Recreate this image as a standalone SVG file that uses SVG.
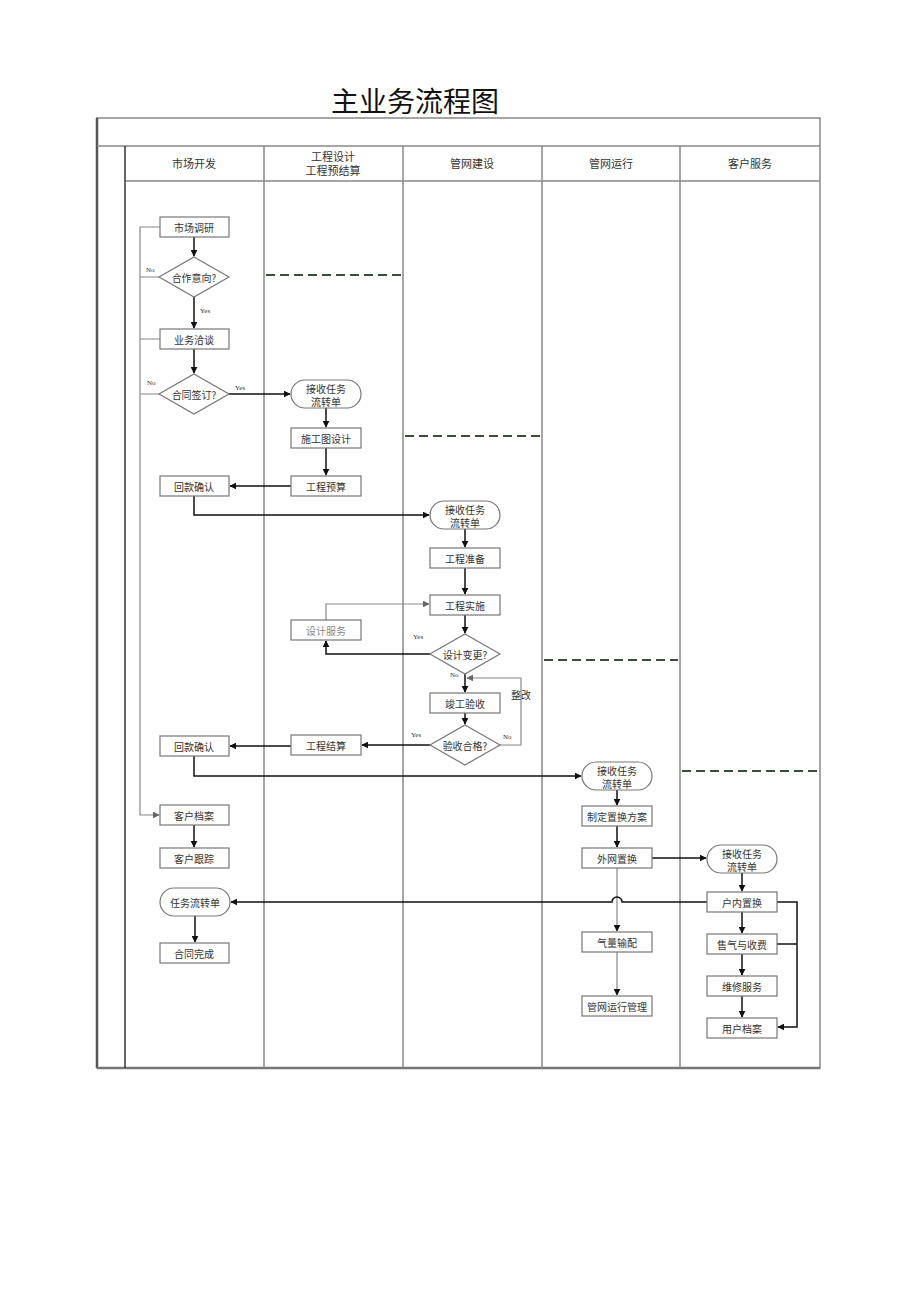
<svg xmlns="http://www.w3.org/2000/svg" width="920" height="1301" viewBox="0 0 920 1301">
<style>
.t{font-family:"Noto Sans CJK SC","Liberation Serif",serif;fill:#333;font-size:10px;text-anchor:middle;dominant-baseline:central}
.h{font-size:11px}
.lbl{font-family:"Liberation Serif",serif;font-size:7px;fill:#333;dominant-baseline:central}
.box{fill:#fff;stroke:#777;stroke-width:1.2}
.lane{stroke:#888;stroke-width:1.5;fill:none}
.dash{stroke:#3a4f3a;stroke-width:2;stroke-dasharray:9,5;fill:none}
.c{stroke:#111;stroke-width:1.5;fill:none}
.cg{stroke:#888;stroke-width:1.2;fill:none}
.g{fill:#888}
</style>
<defs>
<marker id="a" viewBox="0 0 10 10" refX="9" refY="5" markerWidth="7" markerHeight="7" orient="auto" markerUnits="userSpaceOnUse"><path d="M0,0L10,5L0,10z" fill="#111"/></marker>
<marker id="ag" viewBox="0 0 10 10" refX="9" refY="5" markerWidth="7" markerHeight="7" orient="auto" markerUnits="userSpaceOnUse"><path d="M0,0L10,5L0,10z" fill="#666"/></marker>
</defs>
<rect width="920" height="1301" fill="#fff"/>
<text x="415" y="100" style="font-family:'Noto Sans CJK SC',sans-serif;font-size:28px;fill:#111;text-anchor:middle;dominant-baseline:central">主业务流程图</text>
<g id="frame">
<rect x="97" y="118" width="723" height="950" class="lane"/>
<line x1="97" y1="118" x2="97" y2="1068" stroke="#555" stroke-width="2.5"/>
<line x1="97" y1="1068" x2="820" y2="1068" stroke="#777" stroke-width="2.5"/>
<line x1="97" y1="146" x2="820" y2="146" class="lane"/>
<line x1="125" y1="181" x2="820" y2="181" class="lane"/>
<line x1="125" y1="146" x2="125" y2="1068" stroke="#333" stroke-width="1.5"/>
<line x1="264" y1="146" x2="264" y2="1068" class="lane"/>
<line x1="403" y1="146" x2="403" y2="1068" class="lane"/>
<line x1="542" y1="146" x2="542" y2="1068" class="lane"/>
<line x1="680" y1="146" x2="680" y2="1068" class="lane"/>
<text class="t h" x="194" y="163">市场开发</text>
<text class="t h" x="333" y="156">工程设计</text>
<text class="t h" x="333" y="170">工程预结算</text>
<text class="t h" x="472" y="163">管网建设</text>
<text class="t h" x="611" y="163">管网运行</text>
<text class="t h" x="750" y="163">客户服务</text>
<line class="dash" x1="266" y1="275" x2="401" y2="275"/>
<line class="dash" x1="405" y1="436" x2="540" y2="436"/>
<line class="dash" x1="544" y1="660" x2="678" y2="660"/>
<line class="dash" x1="682" y1="771" x2="818" y2="771"/>
</g>
<g id="connectors">
<path class="c" d="M194,237V256" marker-end="url(#a)"/>
<path class="c" d="M194,297V328" marker-end="url(#a)"/>
<path class="c" d="M194,349V373" marker-end="url(#a)"/>
<path class="cg" d="M160,227H140V815H159" marker-end="url(#ag)"/>
<path class="cg" d="M160,277H140M160,339H140M160,394H140"/>
<path class="c" d="M229,394H290" marker-end="url(#a)"/>
<path class="c" d="M326,408V427" marker-end="url(#a)"/>
<path class="c" d="M326,448V475" marker-end="url(#a)"/>
<path class="c" d="M291,486H230" marker-end="url(#a)"/>
<path class="c" d="M194,496V515H429" marker-end="url(#a)"/>
<path class="c" d="M465,529V547" marker-end="url(#a)"/>
<path class="c" d="M465,568V594" marker-end="url(#a)"/>
<path class="c" d="M465,615V633" marker-end="url(#a)"/>
<path class="c" d="M430,654H326V641" marker-end="url(#a)"/>
<path class="cg" d="M326,620V604H429" marker-end="url(#ag)"/>
<path class="c" d="M465,674V692" marker-end="url(#a)"/>
<path class="cg" d="M500,745H521V678H467" marker-end="url(#ag)"/>
<path class="c" d="M465,713V724" marker-end="url(#a)"/>
<path class="c" d="M430,745H362" marker-end="url(#a)"/>
<path class="c" d="M291,746H230" marker-end="url(#a)"/>
<path class="c" d="M194,756V776H581" marker-end="url(#a)"/>
<path class="c" d="M617,790V805" marker-end="url(#a)"/>
<path class="c" d="M617,826V847" marker-end="url(#a)"/>
<path class="c" d="M652,858H706" stroke="#444" marker-end="url(#a)"/>
<path class="cg" d="M617,868V931" marker-end="url(#a)"/>
<path class="cg" d="M617,952V995" marker-end="url(#a)"/>
<path class="c" d="M742,873V891" marker-end="url(#a)"/>
<path class="c" d="M707,902H622A5,5 0 0 0 612,902H231" marker-end="url(#a)"/>
<path class="c" d="M195,916V942" marker-end="url(#a)"/>
<path class="c" d="M194,825V847" marker-end="url(#a)"/>
<path class="c" d="M742,912V933" marker-end="url(#a)"/>
<path class="c" d="M742,954V975" marker-end="url(#a)"/>
<path class="c" d="M742,996V1017" marker-end="url(#a)"/>
<path class="c" d="M777,902H797V1027H778" marker-end="url(#a)"/>
<path class="c" d="M777,944H797"/>
<text class="lbl" x="146" y="270">No</text>
<text class="lbl" x="200" y="311">Yes</text>
<text class="lbl" x="147" y="383">No</text>
<text class="lbl" x="235" y="388">Yes</text>
<text class="lbl" x="413" y="637">Yes</text>
<text class="lbl" x="450" y="675">No</text>
<text class="lbl" x="411" y="735">Yes</text>
<text class="lbl" x="503" y="737">No</text>
<text class="t" x="521" y="694">整改</text>
</g>
<g id="n1"><rect class="box" x="160" y="217" width="69" height="20"/><text class="t" x="194" y="227">市场调研</text></g>
<g id="n2"><path class="box" d="M194,257L229,277L194,297L159,277z"/><text class="t" x="194" y="277">合作意向?</text></g>
<g id="n3"><rect class="box" x="160" y="329" width="69" height="20"/><text class="t" x="194" y="339">业务洽谈</text></g>
<g id="n4"><path class="box" d="M194,374L229,394L194,414L159,394z"/><text class="t" x="194" y="394">合同签订?</text></g>
<g id="n5"><rect class="box" x="291" y="380" width="70" height="28" rx="14"/><text class="t" x="326" y="388">接收任务</text><text class="t" x="326" y="401">流转单</text></g>
<g id="n6"><rect class="box" x="291" y="428" width="70" height="20"/><text class="t" x="326" y="438">施工图设计</text></g>
<g id="n7"><rect class="box" x="291" y="476" width="70" height="20"/><text class="t" x="326" y="486">工程预算</text></g>
<g id="n8"><rect class="box" x="160" y="476" width="69" height="20"/><text class="t" x="194" y="486">回款确认</text></g>
<g id="n9"><rect class="box" x="430" y="501" width="70" height="28" rx="14"/><text class="t" x="465" y="509">接收任务</text><text class="t" x="465" y="522">流转单</text></g>
<g id="n10"><rect class="box" x="430" y="548" width="70" height="20"/><text class="t" x="465" y="558">工程准备</text></g>
<g id="n11"><rect class="box" x="430" y="595" width="70" height="20"/><text class="t" x="465" y="605">工程实施</text></g>
<g id="n12"><rect class="box" x="291" y="620" width="70" height="20"/><text class="t" x="326" y="630" style="fill:#888">设计服务</text></g>
<g id="n13"><path class="box" d="M465,634L500,654L465,674L430,654z"/><text class="t" x="465" y="654">设计变更?</text></g>
<g id="n14"><rect class="box" x="430" y="693" width="70" height="20"/><text class="t" x="465" y="703">竣工验收</text></g>
<g id="n15"><path class="box" d="M465,725L500,745L465,765L430,745z"/><text class="t" x="465" y="745">验收合格?</text></g>
<g id="n16"><rect class="box" x="291" y="735" width="70" height="20"/><text class="t" x="326" y="745">工程结算</text></g>
<g id="n17"><rect class="box" x="160" y="736" width="69" height="20"/><text class="t" x="194" y="746">回款确认</text></g>
<g id="n18"><rect class="box" x="582" y="762" width="70" height="28" rx="14"/><text class="t" x="617" y="770">接收任务</text><text class="t" x="617" y="783">流转单</text></g>
<g id="n19"><rect class="box" x="582" y="806" width="70" height="20"/><text class="t" x="617" y="816">制定置换方案</text></g>
<g id="n20"><rect class="box" x="582" y="848" width="70" height="20"/><text class="t" x="617" y="858">外网置换</text></g>
<g id="n21"><rect class="box" x="707" y="845" width="70" height="28" rx="14"/><text class="t" x="742" y="853">接收任务</text><text class="t" x="742" y="866">流转单</text></g>
<g id="n22"><rect class="box" x="582" y="932" width="70" height="20"/><text class="t" x="617" y="942">气量输配</text></g>
<g id="n23"><rect class="box" x="582" y="996" width="70" height="20"/><text class="t" x="617" y="1006">管网运行管理</text></g>
<g id="n24"><rect class="box" x="707" y="892" width="70" height="20"/><text class="t" x="742" y="902">户内置换</text></g>
<g id="n25"><rect class="box" x="707" y="934" width="70" height="20"/><text class="t" x="742" y="944">售气与收费</text></g>
<g id="n26"><rect class="box" x="707" y="976" width="70" height="20"/><text class="t" x="742" y="986">维修服务</text></g>
<g id="n27"><rect class="box" x="707" y="1018" width="70" height="20"/><text class="t" x="742" y="1028">用户档案</text></g>
<g id="n28"><rect class="box" x="160" y="805" width="69" height="20"/><text class="t" x="194" y="815">客户档案</text></g>
<g id="n29"><rect class="box" x="160" y="848" width="69" height="20"/><text class="t" x="194" y="858">客户跟踪</text></g>
<g id="n30"><rect class="box" x="160" y="888" width="70" height="28" rx="14"/><text class="t" x="195" y="902">任务流转单</text></g>
<g id="n31"><rect class="box" x="160" y="943" width="69" height="20"/><text class="t" x="194" y="953">合同完成</text></g>
</svg>
